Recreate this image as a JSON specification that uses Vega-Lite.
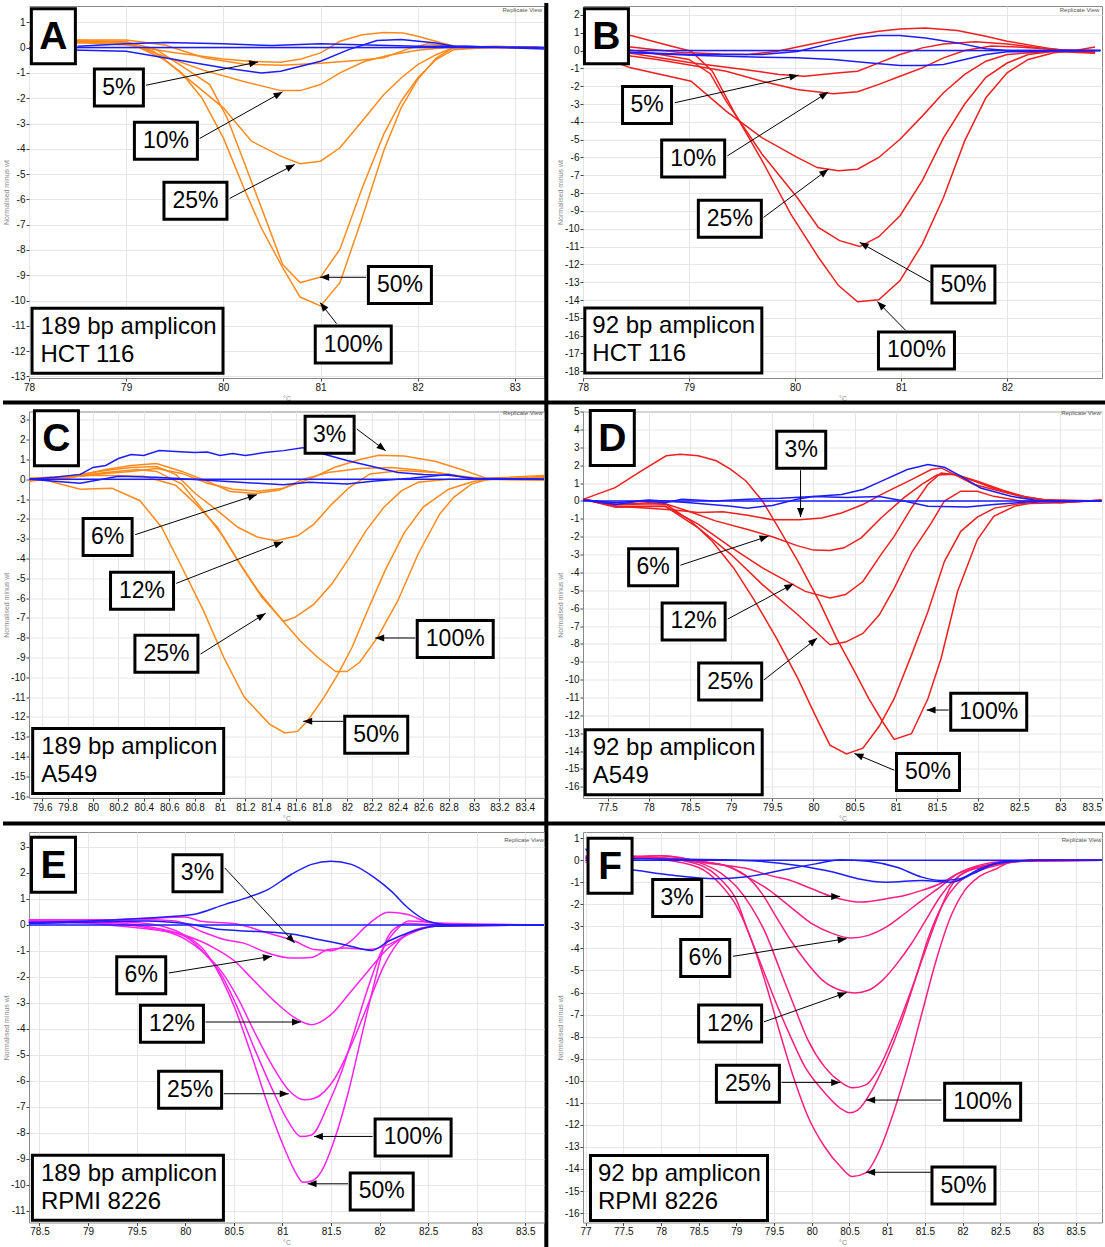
{
  "$schema": "https://vega.github.io/schema/vega-lite/v6.json",
  "padding": 0,
  "background": "white",
  "config": {
    "font": "Liberation Sans",
    "view": {"stroke": "#8a8a8a", "strokeWidth": 1},
    "axis": {
      "labelFont": "Liberation Sans", "labelFontSize": 10, "labelColor": "#111",
      "tickSize": 3, "tickColor": "#444", "domain": false, "grid": true, "gridColor": "#e6e6e6",
      "titleFont": "Liberation Sans", "titleFontSize": 7, "titleFontWeight": "normal", "titleColor": "#888",
      "labelPadding": 1, "labelOverlap": false
    },
    "axisX": {"titleY": 16, "titleBaseline": "top", "labelFlush": false},
    "axisY": {"titleX": -20, "titleBaseline": "bottom"}
  },
  "datasets": {
    "cA": [
      {"s":"p100","x":78,"y":0.12},{"s":"p100","x":78.5,"y":0.2},{"s":"p100","x":79,"y":0.18},{"s":"p100","x":79.28,"y":-0.14},{"s":"p100","x":79.57,"y":-1.0},{"s":"p100","x":79.78,"y":-1.99},{"s":"p100","x":80.0,"y":-3.57},{"s":"p100","x":80.21,"y":-5.54},{"s":"p100","x":80.39,"y":-7.12},{"s":"p100","x":80.61,"y":-8.7},{"s":"p100","x":80.79,"y":-9.86},{"s":"p100","x":81.0,"y":-10.21},{"s":"p100","x":81.2,"y":-9.29},{"s":"p100","x":81.43,"y":-6.72},{"s":"p100","x":81.65,"y":-4.09},{"s":"p100","x":81.83,"y":-2.38},{"s":"p100","x":82.0,"y":-1.26},{"s":"p100","x":82.19,"y":-0.41},{"s":"p100","x":82.37,"y":0},{"s":"p100","x":82.8,"y":0.05},{"s":"p100","x":83.25,"y":0},
      {"s":"p50","x":78,"y":0.1},{"s":"p50","x":78.5,"y":0.25},{"s":"p50","x":79,"y":0.22},{"s":"p50","x":79.3,"y":-0.05},{"s":"p50","x":79.6,"y":-0.8},{"s":"p50","x":79.86,"y":-1.46},{"s":"p50","x":80.04,"y":-2.78},{"s":"p50","x":80.21,"y":-4.49},{"s":"p50","x":80.43,"y":-6.72},{"s":"p50","x":80.61,"y":-8.57},{"s":"p50","x":80.79,"y":-9.29},{"s":"p50","x":81.0,"y":-9.07},{"s":"p50","x":81.2,"y":-7.97},{"s":"p50","x":81.43,"y":-5.54},{"s":"p50","x":81.65,"y":-3.43},{"s":"p50","x":81.83,"y":-2.12},{"s":"p50","x":82.0,"y":-1.2},{"s":"p50","x":82.19,"y":-0.47},{"s":"p50","x":82.37,"y":-0.08},{"s":"p50","x":82.8,"y":0.02},{"s":"p50","x":83.25,"y":0},
      {"s":"p25","x":78,"y":0.15},{"s":"p25","x":78.5,"y":0.25},{"s":"p25","x":79,"y":0.25},{"s":"p25","x":79.39,"y":-0.47},{"s":"p25","x":79.71,"y":-1.46},{"s":"p25","x":80.0,"y":-2.38},{"s":"p25","x":80.29,"y":-3.7},{"s":"p25","x":80.59,"y":-4.29},{"s":"p25","x":80.79,"y":-4.59},{"s":"p25","x":81.0,"y":-4.49},{"s":"p25","x":81.2,"y":-3.96},{"s":"p25","x":81.43,"y":-2.9},{"s":"p25","x":81.65,"y":-1.86},{"s":"p25","x":81.83,"y":-1.2},{"s":"p25","x":82.0,"y":-0.67},{"s":"p25","x":82.19,"y":-0.28},{"s":"p25","x":82.37,"y":0},{"s":"p25","x":83.25,"y":0},
      {"s":"p10","x":78,"y":0.2},{"s":"p10","x":78.5,"y":0.3},{"s":"p10","x":79,"y":0.2},{"s":"p10","x":79.39,"y":-0.34},{"s":"p10","x":79.8,"y":-0.9},{"s":"p10","x":80.2,"y":-1.33},{"s":"p10","x":80.59,"y":-1.7},{"s":"p10","x":80.79,"y":-1.7},{"s":"p10","x":81.0,"y":-1.46},{"s":"p10","x":81.2,"y":-1.0},{"s":"p10","x":81.45,"y":-0.55},{"s":"p10","x":81.7,"y":-0.3},{"s":"p10","x":82.0,"y":-0.1},{"s":"p10","x":82.3,"y":0},{"s":"p10","x":83.25,"y":0},
      {"s":"p5","x":78,"y":0.1},{"s":"p5","x":78.5,"y":0.2},{"s":"p5","x":79,"y":0.1},{"s":"p5","x":79.5,"y":-0.2},{"s":"p5","x":80.0,"y":-0.45},{"s":"p5","x":80.3,"y":-0.55},{"s":"p5","x":80.59,"y":-0.58},{"s":"p5","x":80.8,"y":-0.45},{"s":"p5","x":81.0,"y":-0.21},{"s":"p5","x":81.2,"y":0.25},{"s":"p5","x":81.43,"y":0.51},{"s":"p5","x":81.65,"y":0.6},{"s":"p5","x":81.85,"y":0.58},{"s":"p5","x":82.0,"y":0.45},{"s":"p5","x":82.25,"y":0.18},{"s":"p5","x":82.45,"y":0},{"s":"p5","x":83.25,"y":0},
      {"s":"px","x":78,"y":0.2},{"s":"px","x":78.6,"y":0.3},{"s":"px","x":79,"y":0.3},{"s":"px","x":79.4,"y":0.1},{"s":"px","x":79.8,"y":-0.4},{"s":"px","x":80.2,"y":-0.65},{"s":"px","x":80.6,"y":-0.7},{"s":"px","x":81.0,"y":-0.62},{"s":"px","x":81.4,"y":-0.5},{"s":"px","x":81.65,"y":-0.4},{"s":"px","x":81.9,"y":-0.05},{"s":"px","x":82.1,"y":0.15},{"s":"px","x":82.35,"y":0.05},{"s":"px","x":83.25,"y":0},
      {"s":"w0","x":78,"y":0},{"s":"w0","x":83.3,"y":0},
      {"s":"w1","x":78.5,"y":0.05},{"s":"w1","x":79,"y":0.15},{"s":"w1","x":79.4,"y":0.2},{"s":"w1","x":80,"y":0.15},{"s":"w1","x":80.5,"y":0.08},{"s":"w1","x":81,"y":0.15},{"s":"w1","x":81.5,"y":0.1},{"s":"w1","x":82,"y":0.05},{"s":"w1","x":82.5,"y":0.05},{"s":"w1","x":83.3,"y":-0.05},
      {"s":"w2","x":78,"y":-0.05},{"s":"w2","x":79,"y":-0.14},{"s":"w2","x":79.5,"y":-0.47},{"s":"w2","x":80,"y":-0.8},{"s":"w2","x":80.39,"y":-1.0},{"s":"w2","x":80.59,"y":-0.93},{"s":"w2","x":81,"y":-0.54},{"s":"w2","x":81.29,"y":-0.08},{"s":"w2","x":81.58,"y":0.28},{"s":"w2","x":81.83,"y":0.32},{"s":"w2","x":82.19,"y":0.18},{"s":"w2","x":82.37,"y":0.05},{"s":"w2","x":83.3,"y":0}
    ],
    "aA": [
      {"k":"L","txt":"A","x":78.251,"y":0.447},
      {"k":"l","txt":"5%","x":78.925,"y":-1.579},{"k":"l","txt":"10%","x":79.409,"y":-3.684},{"k":"l","txt":"25%","x":79.713,"y":-6.053},{"k":"l","txt":"50%","x":81.817,"y":-9.382},{"k":"l","txt":"100%","x":81.337,"y":-11.737},
      {"k":"i","txt":"189 bp amplicon\nHCT 116","x":79.014,"y":-11.592},
      {"k":"a","x":79.204,"y":-1.487,"xe":80.358,"ye":-0.566},{"k":"a","x":79.756,"y":-3.592,"xe":80.609,"ye":-1.75},{"k":"a","x":80.065,"y":-5.961,"xe":80.735,"ye":-4.618},{"k":"a","x":81.47,"y":-9.079,"xe":80.996,"ye":-9.079},{"k":"a","x":81.165,"y":-10.908,"xe":80.996,"ye":-10.079},
      {"k":"r","txt":"Replicate View","x":83.28,"y":1.49}
    ],
    "cB": [
      {"s":"p100","x":78,"y":0.99},{"s":"p100","x":78.24,"y":1.12},{"s":"p100","x":78.48,"y":0.8},{"s":"p100","x":78.8,"y":0.3},{"s":"p100","x":79.02,"y":-0.04},{"s":"p100","x":79.22,"y":-1.16},{"s":"p100","x":79.42,"y":-3.4},{"s":"p100","x":79.69,"y":-6.19},{"s":"p100","x":79.96,"y":-9.18},{"s":"p100","x":80.22,"y":-11.6},{"s":"p100","x":80.41,"y":-13.19},{"s":"p100","x":80.59,"y":-14.1},{"s":"p100","x":80.79,"y":-13.99},{"s":"p100","x":80.99,"y":-12.91},{"s":"p100","x":81.2,"y":-10.86},{"s":"p100","x":81.4,"y":-8.25},{"s":"p100","x":81.6,"y":-5.07},{"s":"p100","x":81.8,"y":-2.65},{"s":"p100","x":82.0,"y":-1.25},{"s":"p100","x":82.2,"y":-0.5},{"s":"p100","x":82.44,"y":-0.13},{"s":"p100","x":82.64,"y":0},{"s":"p100","x":82.83,"y":0.2},
      {"s":"p50","x":78,"y":0.25},{"s":"p50","x":78.3,"y":0.15},{"s":"p50","x":78.6,"y":-0.1},{"s":"p50","x":79.0,"y":-0.5},{"s":"p50","x":79.2,"y":-1.3},{"s":"p50","x":79.35,"y":-2.84},{"s":"p50","x":79.69,"y":-5.82},{"s":"p50","x":80.02,"y":-8.25},{"s":"p50","x":80.22,"y":-9.93},{"s":"p50","x":80.42,"y":-10.67},{"s":"p50","x":80.61,"y":-11.0},{"s":"p50","x":80.79,"y":-10.45},{"s":"p50","x":80.99,"y":-9.27},{"s":"p50","x":81.2,"y":-7.3},{"s":"p50","x":81.4,"y":-4.9},{"s":"p50","x":81.6,"y":-3.0},{"s":"p50","x":81.8,"y":-1.5},{"s":"p50","x":82.0,"y":-0.7},{"s":"p50","x":82.2,"y":-0.22},{"s":"p50","x":82.45,"y":-0.04},{"s":"p50","x":82.83,"y":-0.1},
      {"s":"p25","x":78,"y":0.0},{"s":"p25","x":78.45,"y":-0.97},{"s":"p25","x":79.02,"y":-1.72},{"s":"p25","x":79.35,"y":-3.4},{"s":"p25","x":79.69,"y":-4.9},{"s":"p25","x":80.02,"y":-6.0},{"s":"p25","x":80.21,"y":-6.57},{"s":"p25","x":80.41,"y":-6.75},{"s":"p25","x":80.59,"y":-6.66},{"s":"p25","x":80.79,"y":-6.0},{"s":"p25","x":80.99,"y":-4.98},{"s":"p25","x":81.2,"y":-3.68},{"s":"p25","x":81.4,"y":-2.37},{"s":"p25","x":81.6,"y":-1.34},{"s":"p25","x":81.8,"y":-0.6},{"s":"p25","x":82.0,"y":-0.22},{"s":"p25","x":82.4,"y":-0.04},{"s":"p25","x":82.83,"y":-0.15},
      {"s":"p10","x":78,"y":0.05},{"s":"p10","x":78.7,"y":-0.5},{"s":"p10","x":79.35,"y":-1.16},{"s":"p10","x":79.69,"y":-1.72},{"s":"p10","x":80.02,"y":-2.18},{"s":"p10","x":80.16,"y":-2.28},{"s":"p10","x":80.36,"y":-2.43},{"s":"p10","x":80.59,"y":-2.31},{"s":"p10","x":80.79,"y":-1.9},{"s":"p10","x":80.99,"y":-1.44},{"s":"p10","x":81.2,"y":-0.97},{"s":"p10","x":81.4,"y":-0.41},{"s":"p10","x":81.6,"y":0.0},{"s":"p10","x":81.85,"y":0.25},{"s":"p10","x":82.1,"y":0.2},{"s":"p10","x":82.5,"y":0.05},{"s":"p10","x":82.83,"y":0.0},
      {"s":"p5","x":78,"y":0.15},{"s":"p5","x":78.5,"y":-0.2},{"s":"p5","x":79.02,"y":-0.69},{"s":"p5","x":79.52,"y":-1.06},{"s":"p5","x":79.85,"y":-1.34},{"s":"p5","x":80.09,"y":-1.44},{"s":"p5","x":80.42,"y":-1.25},{"s":"p5","x":80.59,"y":-1.16},{"s":"p5","x":80.79,"y":-0.69},{"s":"p5","x":80.99,"y":-0.22},{"s":"p5","x":81.2,"y":0.15},{"s":"p5","x":81.4,"y":0.37},{"s":"p5","x":81.7,"y":0.49},{"s":"p5","x":82.0,"y":0.37},{"s":"p5","x":82.37,"y":0.1},{"s":"p5","x":82.83,"y":-0.1},
      {"s":"px","x":78,"y":0.3},{"s":"px","x":78.45,"y":0.2},{"s":"px","x":78.9,"y":-0.1},{"s":"px","x":79.3,"y":-0.2},{"s":"px","x":79.55,"y":-0.22},{"s":"px","x":79.82,"y":-0.05},{"s":"px","x":80.1,"y":0.3},{"s":"px","x":80.36,"y":0.62},{"s":"px","x":80.59,"y":0.9},{"s":"px","x":80.79,"y":1.08},{"s":"px","x":80.99,"y":1.21},{"s":"px","x":81.23,"y":1.27},{"s":"px","x":81.53,"y":1.12},{"s":"px","x":81.8,"y":0.8},{"s":"px","x":82.0,"y":0.52},{"s":"px","x":82.37,"y":0.15},{"s":"px","x":82.54,"y":0},{"s":"px","x":82.83,"y":-0.13},
      {"s":"w0","x":78,"y":0},{"s":"w0","x":82.88,"y":0},
      {"s":"w1","x":78,"y":0},{"s":"w1","x":79.02,"y":-0.22},{"s":"w1","x":79.69,"y":-0.22},{"s":"w1","x":80.02,"y":-0.05},{"s":"w1","x":80.36,"y":0.43},{"s":"w1","x":80.59,"y":0.7},{"s":"w1","x":80.79,"y":0.84},{"s":"w1","x":80.99,"y":0.84},{"s":"w1","x":81.23,"y":0.7},{"s":"w1","x":81.53,"y":0.43},{"s":"w1","x":81.8,"y":0.1},{"s":"w1","x":82.0,"y":0},{"s":"w1","x":82.88,"y":0},
      {"s":"w2","x":78,"y":0},{"s":"w2","x":79.02,"y":-0.26},{"s":"w2","x":79.69,"y":-0.37},{"s":"w2","x":80.02,"y":-0.41},{"s":"w2","x":80.36,"y":-0.5},{"s":"w2","x":80.69,"y":-0.69},{"s":"w2","x":80.99,"y":-0.84},{"s":"w2","x":81.2,"y":-0.84},{"s":"w2","x":81.4,"y":-0.78},{"s":"w2","x":81.6,"y":-0.5},{"s":"w2","x":81.8,"y":-0.22},{"s":"w2","x":82.0,"y":-0.07},{"s":"w2","x":82.88,"y":0}
    ],
    "aB": [
      {"k":"L","txt":"B","x":78.221,"y":0.802},
      {"k":"l","txt":"5%","x":78.604,"y":-3.06},{"k":"l","txt":"10%","x":79.039,"y":-6.063},{"k":"l","txt":"25%","x":79.385,"y":-9.44},{"k":"l","txt":"50%","x":81.588,"y":-13.134},{"k":"l","txt":"100%","x":81.145,"y":-16.828},
      {"k":"i","txt":"92 bp amplicon\nHCT 116","x":78.852,"y":-16.269},
      {"k":"a","x":78.865,"y":-2.929,"xe":80.032,"ye":-1.381},{"k":"a","x":79.361,"y":-5.914,"xe":80.313,"ye":-2.332},{"k":"a","x":79.703,"y":-9.366,"xe":80.313,"ye":-6.66},{"k":"a","x":81.279,"y":-13.004,"xe":80.609,"ye":-10.765},{"k":"a","x":81.044,"y":-15.709,"xe":80.776,"ye":-14.086},
      {"k":"r","txt":"Replicate View","x":82.87,"y":2.28},
      {"k":"s","x":77.654,"y":2.668,"xe":77.654,"ye":-67.2}
    ],
    "cC": [
      {"s":"p50","x":79.5,"y":0},{"s":"p50","x":79.6,"y":0},{"s":"p50","x":79.9,"y":-0.5},{"s":"p50","x":80.15,"y":-0.45},{"s":"p50","x":80.37,"y":-1.08},{"s":"p50","x":80.54,"y":-2.42},{"s":"p50","x":80.7,"y":-4.44},{"s":"p50","x":80.87,"y":-6.63},{"s":"p50","x":81.03,"y":-9.0},{"s":"p50","x":81.19,"y":-11.0},{"s":"p50","x":81.39,"y":-12.36},{"s":"p50","x":81.51,"y":-12.81},{"s":"p50","x":81.61,"y":-12.73},{"s":"p50","x":81.69,"y":-12.19},{"s":"p50","x":81.82,"y":-11.0},{"s":"p50","x":81.93,"y":-9.83},{"s":"p50","x":82.04,"y":-8.48},{"s":"p50","x":82.15,"y":-6.8},{"s":"p50","x":82.3,"y":-4.6},{"s":"p50","x":82.45,"y":-2.7},{"s":"p50","x":82.6,"y":-1.4},{"s":"p50","x":82.8,"y":-0.5},{"s":"p50","x":83.0,"y":-0.1},{"s":"p50","x":83.15,"y":0},{"s":"p50","x":83.55,"y":0.15},
      {"s":"p100","x":79.5,"y":0},{"s":"p100","x":79.8,"y":0.1},{"s":"p100","x":80.0,"y":0.2},{"s":"p100","x":80.4,"y":0.15},{"s":"p100","x":80.65,"y":-0.3},{"s":"p100","x":80.81,"y":-1.25},{"s":"p100","x":80.98,"y":-2.42},{"s":"p100","x":81.14,"y":-4.1},{"s":"p100","x":81.3,"y":-5.62},{"s":"p100","x":81.47,"y":-6.97},{"s":"p100","x":81.63,"y":-8.15},{"s":"p100","x":81.77,"y":-9.0},{"s":"p100","x":81.91,"y":-9.71},{"s":"p100","x":82.0,"y":-9.71},{"s":"p100","x":82.1,"y":-9.24},{"s":"p100","x":82.24,"y":-7.98},{"s":"p100","x":82.4,"y":-6.13},{"s":"p100","x":82.56,"y":-3.77},{"s":"p100","x":82.73,"y":-1.75},{"s":"p100","x":82.84,"y":-0.91},{"s":"p100","x":82.98,"y":-0.24},{"s":"p100","x":83.11,"y":0},{"s":"p100","x":83.55,"y":0.1},
      {"s":"p25","x":79.5,"y":-0.1},{"s":"p25","x":79.8,"y":0.1},{"s":"p25","x":80.1,"y":0.35},{"s":"p25","x":80.35,"y":0.5},{"s":"p25","x":80.5,"y":0.4},{"s":"p25","x":80.7,"y":-0.24},{"s":"p25","x":80.87,"y":-1.58},{"s":"p25","x":81.03,"y":-2.93},{"s":"p25","x":81.19,"y":-4.61},{"s":"p25","x":81.33,"y":-5.96},{"s":"p25","x":81.5,"y":-7.17},{"s":"p25","x":81.59,"y":-6.97},{"s":"p25","x":81.74,"y":-6.3},{"s":"p25","x":81.88,"y":-5.29},{"s":"p25","x":82.02,"y":-3.94},{"s":"p25","x":82.15,"y":-2.59},{"s":"p25","x":82.29,"y":-1.41},{"s":"p25","x":82.43,"y":-0.57},{"s":"p25","x":82.56,"y":-0.15},{"s":"p25","x":82.8,"y":0},{"s":"p25","x":83.1,"y":0},{"s":"p25","x":83.55,"y":0.05},
      {"s":"p12","x":79.5,"y":0.05},{"s":"p12","x":79.8,"y":0.15},{"s":"p12","x":80.1,"y":0.45},{"s":"p12","x":80.3,"y":0.6},{"s":"p12","x":80.5,"y":0.65},{"s":"p12","x":80.65,"y":0.25},{"s":"p12","x":80.81,"y":-0.74},{"s":"p12","x":80.98,"y":-1.58},{"s":"p12","x":81.14,"y":-2.42},{"s":"p12","x":81.3,"y":-2.93},{"s":"p12","x":81.44,"y":-3.1},{"s":"p12","x":81.61,"y":-2.85},{"s":"p12","x":81.74,"y":-2.26},{"s":"p12","x":81.88,"y":-1.25},{"s":"p12","x":82.02,"y":-0.4},{"s":"p12","x":82.18,"y":0.27},{"s":"p12","x":82.43,"y":0.44},{"s":"p12","x":82.7,"y":0.35},{"s":"p12","x":82.95,"y":0.1},{"s":"p12","x":83.1,"y":0},{"s":"p12","x":83.55,"y":-0.05},
      {"s":"p6","x":79.5,"y":0.05},{"s":"p6","x":79.8,"y":0.05},{"s":"p6","x":80.1,"y":0.5},{"s":"p6","x":80.3,"y":0.7},{"s":"p6","x":80.5,"y":0.8},{"s":"p6","x":80.7,"y":0.4},{"s":"p6","x":80.9,"y":-0.1},{"s":"p6","x":81.08,"y":-0.61},{"s":"p6","x":81.28,"y":-0.71},{"s":"p6","x":81.47,"y":-0.54},{"s":"p6","x":81.65,"y":0.0},{"s":"p6","x":81.85,"y":0.35},{"s":"p6","x":82.1,"y":0.55},{"s":"p6","x":82.35,"y":0.6},{"s":"p6","x":82.6,"y":0.45},{"s":"p6","x":82.9,"y":0.15},{"s":"p6","x":83.1,"y":0},{"s":"p6","x":83.55,"y":0.1},
      {"s":"p3","x":79.5,"y":-0.05},{"s":"p3","x":79.8,"y":0.1},{"s":"p3","x":80.1,"y":0.3},{"s":"p3","x":80.3,"y":0.4},{"s":"p3","x":80.5,"y":0.55},{"s":"p3","x":80.7,"y":0.3},{"s":"p3","x":80.9,"y":-0.2},{"s":"p3","x":81.1,"y":-0.5},{"s":"p3","x":81.3,"y":-0.6},{"s":"p3","x":81.5,"y":-0.45},{"s":"p3","x":81.7,"y":0.0},{"s":"p3","x":81.9,"y":0.6},{"s":"p3","x":82.1,"y":1.0},{"s":"p3","x":82.25,"y":1.22},{"s":"p3","x":82.45,"y":1.18},{"s":"p3","x":82.7,"y":0.9},{"s":"p3","x":82.9,"y":0.5},{"s":"p3","x":83.1,"y":0.05},{"s":"p3","x":83.55,"y":0.2},
      {"s":"w0","x":79.5,"y":0},{"s":"w0","x":83.55,"y":0},
      {"s":"w1","x":79.5,"y":0},{"s":"w1","x":79.7,"y":0.1},{"s":"w1","x":79.9,"y":0.25},{"s":"w1","x":80.0,"y":0.6},{"s":"w1","x":80.1,"y":0.7},{"s":"w1","x":80.2,"y":1.05},{"s":"w1","x":80.3,"y":1.25},{"s":"w1","x":80.4,"y":1.2},{"s":"w1","x":80.52,"y":1.45},{"s":"w1","x":80.65,"y":1.4},{"s":"w1","x":80.8,"y":1.35},{"s":"w1","x":80.9,"y":1.38},{"s":"w1","x":81.0,"y":1.2},{"s":"w1","x":81.1,"y":1.3},{"s":"w1","x":81.2,"y":1.2},{"s":"w1","x":81.35,"y":1.35},{"s":"w1","x":81.5,"y":1.45},{"s":"w1","x":81.65,"y":1.6},{"s":"w1","x":81.8,"y":1.3},{"s":"w1","x":82.0,"y":0.95},{"s":"w1","x":82.2,"y":0.65},{"s":"w1","x":82.4,"y":0.35},{"s":"w1","x":82.6,"y":0.25},{"s":"w1","x":82.8,"y":0.2},{"s":"w1","x":83.0,"y":0.05},{"s":"w1","x":83.55,"y":0},
      {"s":"w2","x":79.5,"y":0},{"s":"w2","x":79.9,"y":-0.2},{"s":"w2","x":80.2,"y":0.15},{"s":"w2","x":80.5,"y":0.1},{"s":"w2","x":80.9,"y":-0.05},{"s":"w2","x":81.3,"y":-0.2},{"s":"w2","x":81.5,"y":-0.27},{"s":"w2","x":81.7,"y":-0.15},{"s":"w2","x":82.0,"y":-0.24},{"s":"w2","x":82.2,"y":-0.1},{"s":"w2","x":82.5,"y":0.05},{"s":"w2","x":82.8,"y":0.25},{"s":"w2","x":83.0,"y":0.0},{"s":"w2","x":83.55,"y":0}
    ],
    "aC": [
      {"k":"L","txt":"C","x":79.712,"y":2.071},
      {"k":"l","txt":"3%","x":81.863,"y":2.256},{"k":"l","txt":"6%","x":80.115,"y":-2.912},{"k":"l","txt":"12%","x":80.386,"y":-5.623},{"k":"l","txt":"25%","x":80.578,"y":-8.805},{"k":"l","txt":"100%","x":82.852,"y":-8.064},{"k":"l","txt":"50%","x":82.23,"y":-12.896},
      {"k":"i","txt":"189 bp amplicon\nA549","x":80.277,"y":-14.226},
      {"k":"a","x":82.077,"y":2.542,"xe":82.304,"ye":1.448},{"k":"a","x":80.332,"y":-2.795,"xe":81.29,"ye":-0.774},{"k":"a","x":80.655,"y":-5.253,"xe":81.496,"ye":-3.148},{"k":"a","x":80.847,"y":-8.822,"xe":81.359,"ye":-6.768},{"k":"a","x":82.537,"y":-8.013,"xe":82.222,"ye":-8.013},{"k":"a","x":81.97,"y":-12.222,"xe":81.655,"ye":-12.222},
      {"k":"r","txt":"Replicate View","x":83.54,"y":3.35},
      {"k":"s","x":79.2913,"y":3.881,"xe":87.976,"ye":3.881}
    ],
    "cD": [
      {"s":"p100","x":77.2,"y":0.09},{"s":"p100","x":77.59,"y":0.75},{"s":"p100","x":77.91,"y":1.69},{"s":"p100","x":78.21,"y":2.53},{"s":"p100","x":78.38,"y":2.62},{"s":"p100","x":78.6,"y":2.53},{"s":"p100","x":78.82,"y":2.25},{"s":"p100","x":78.99,"y":1.78},{"s":"p100","x":79.18,"y":1.12},{"s":"p100","x":79.38,"y":0},{"s":"p100","x":79.55,"y":-1.31},{"s":"p100","x":79.81,"y":-3.37},{"s":"p100","x":80.07,"y":-5.62},{"s":"p100","x":80.28,"y":-7.68},{"s":"p100","x":80.5,"y":-9.55},{"s":"p100","x":80.67,"y":-11.05},{"s":"p100","x":80.84,"y":-12.36},{"s":"p100","x":80.98,"y":-13.35},{"s":"p100","x":81.19,"y":-13.03},{"s":"p100","x":81.39,"y":-11.07},{"s":"p100","x":81.55,"y":-8.82},{"s":"p100","x":81.75,"y":-5.07},{"s":"p100","x":81.99,"y":-2.17},{"s":"p100","x":82.19,"y":-0.86},{"s":"p100","x":82.44,"y":-0.3},{"s":"p100","x":82.76,"y":0},{"s":"p100","x":83.0,"y":-0.1},{"s":"p100","x":83.5,"y":0.05},
      {"s":"p50","x":77.2,"y":0.1},{"s":"p50","x":77.6,"y":-0.2},{"s":"p50","x":78.0,"y":-0.1},{"s":"p50","x":78.21,"y":-0.19},{"s":"p50","x":78.51,"y":-1.12},{"s":"p50","x":78.77,"y":-2.25},{"s":"p50","x":79.03,"y":-3.75},{"s":"p50","x":79.29,"y":-5.62},{"s":"p50","x":79.55,"y":-7.68},{"s":"p50","x":79.81,"y":-9.93},{"s":"p50","x":80.02,"y":-11.99},{"s":"p50","x":80.2,"y":-13.67},{"s":"p50","x":80.4,"y":-14.16},{"s":"p50","x":80.6,"y":-13.84},{"s":"p50","x":80.8,"y":-12.6},{"s":"p50","x":80.98,"y":-11.07},{"s":"p50","x":81.19,"y":-8.63},{"s":"p50","x":81.39,"y":-6.2},{"s":"p50","x":81.59,"y":-3.39},{"s":"p50","x":81.79,"y":-1.7},{"s":"p50","x":81.99,"y":-0.9},{"s":"p50","x":82.2,"y":-0.4},{"s":"p50","x":82.5,"y":-0.15},{"s":"p50","x":83.0,"y":-0.1},{"s":"p50","x":83.5,"y":0.05},
      {"s":"p25","x":77.2,"y":0.1},{"s":"p25","x":77.6,"y":-0.3},{"s":"p25","x":78.2,"y":-0.3},{"s":"p25","x":78.6,"y":-1.5},{"s":"p25","x":79.0,"y":-3.0},{"s":"p25","x":79.38,"y":-4.68},{"s":"p25","x":79.81,"y":-6.37},{"s":"p25","x":80.2,"y":-8.05},{"s":"p25","x":80.39,"y":-7.9},{"s":"p25","x":80.6,"y":-7.42},{"s":"p25","x":80.8,"y":-6.37},{"s":"p25","x":80.98,"y":-4.89},{"s":"p25","x":81.2,"y":-2.83},{"s":"p25","x":81.43,"y":-1.24},{"s":"p25","x":81.59,"y":0},{"s":"p25","x":81.79,"y":0.55},{"s":"p25","x":81.99,"y":0.55},{"s":"p25","x":82.19,"y":0.26},{"s":"p25","x":82.52,"y":0},{"s":"p25","x":83.5,"y":0},
      {"s":"p12","x":77.2,"y":0.1},{"s":"p12","x":77.6,"y":-0.35},{"s":"p12","x":78.2,"y":-0.3},{"s":"p12","x":78.6,"y":-1.3},{"s":"p12","x":79.0,"y":-2.6},{"s":"p12","x":79.38,"y":-3.75},{"s":"p12","x":79.64,"y":-4.4},{"s":"p12","x":79.9,"y":-5.06},{"s":"p12","x":80.2,"y":-5.43},{"s":"p12","x":80.39,"y":-5.24},{"s":"p12","x":80.6,"y":-4.51},{"s":"p12","x":80.82,"y":-3.0},{"s":"p12","x":80.98,"y":-1.98},{"s":"p12","x":81.19,"y":-0.39},{"s":"p12","x":81.39,"y":0.92},{"s":"p12","x":81.55,"y":1.57},{"s":"p12","x":81.75,"y":1.46},{"s":"p12","x":82.0,"y":1.1},{"s":"p12","x":82.3,"y":0.6},{"s":"p12","x":82.6,"y":0.2},{"s":"p12","x":83.0,"y":-0.05},{"s":"p12","x":83.5,"y":0},
      {"s":"p6","x":77.2,"y":0.1},{"s":"p6","x":77.6,"y":-0.2},{"s":"p6","x":78.2,"y":-0.15},{"s":"p6","x":78.5,"y":-0.6},{"s":"p6","x":78.8,"y":-1.1},{"s":"p6","x":79.2,"y":-1.6},{"s":"p6","x":79.5,"y":-2.0},{"s":"p6","x":79.8,"y":-2.5},{"s":"p6","x":80.0,"y":-2.75},{"s":"p6","x":80.2,"y":-2.77},{"s":"p6","x":80.37,"y":-2.62},{"s":"p6","x":80.58,"y":-2.06},{"s":"p6","x":80.82,"y":-0.95},{"s":"p6","x":81.1,"y":0.19},{"s":"p6","x":81.32,"y":0.94},{"s":"p6","x":81.5,"y":1.45},{"s":"p6","x":81.7,"y":1.5},{"s":"p6","x":81.9,"y":1.2},{"s":"p6","x":82.2,"y":0.7},{"s":"p6","x":82.5,"y":0.3},{"s":"p6","x":82.9,"y":0.0},{"s":"p6","x":83.5,"y":0},
      {"s":"p3","x":77.2,"y":0.1},{"s":"p3","x":77.6,"y":-0.3},{"s":"p3","x":78.0,"y":-0.4},{"s":"p3","x":78.3,"y":-0.5},{"s":"p3","x":78.6,"y":-0.65},{"s":"p3","x":78.9,"y":-0.6},{"s":"p3","x":79.2,"y":-0.8},{"s":"p3","x":79.5,"y":-1.05},{"s":"p3","x":79.83,"y":-1.05},{"s":"p3","x":80.1,"y":-0.95},{"s":"p3","x":80.34,"y":-0.67},{"s":"p3","x":80.6,"y":-0.2},{"s":"p3","x":80.82,"y":0.36},{"s":"p3","x":81.19,"y":1.2},{"s":"p3","x":81.43,"y":1.76},{"s":"p3","x":81.55,"y":1.85},{"s":"p3","x":81.75,"y":1.39},{"s":"p3","x":81.95,"y":0.92},{"s":"p3","x":82.19,"y":0.64},{"s":"p3","x":82.52,"y":0.26},{"s":"p3","x":82.76,"y":0.08},{"s":"p3","x":83.5,"y":0},
      {"s":"w0","x":77.2,"y":0},{"s":"w0","x":83.5,"y":0},
      {"s":"w1","x":77.2,"y":0.05},{"s":"w1","x":77.6,"y":-0.2},{"s":"w1","x":77.9,"y":0.0},{"s":"w1","x":78.2,"y":-0.1},{"s":"w1","x":78.4,"y":0.1},{"s":"w1","x":78.8,"y":0.0},{"s":"w1","x":79.2,"y":0.1},{"s":"w1","x":79.6,"y":0.15},{"s":"w1","x":80.0,"y":0.25},{"s":"w1","x":80.34,"y":0.36},{"s":"w1","x":80.6,"y":0.64},{"s":"w1","x":80.82,"y":1.1},{"s":"w1","x":81.14,"y":1.76},{"s":"w1","x":81.39,"y":2.04},{"s":"w1","x":81.59,"y":1.89},{"s":"w1","x":81.79,"y":1.39},{"s":"w1","x":82.03,"y":0.73},{"s":"w1","x":82.4,"y":0.26},{"s":"w1","x":82.76,"y":0.0},{"s":"w1","x":83.5,"y":0},
      {"s":"w2","x":77.2,"y":0.05},{"s":"w2","x":77.6,"y":-0.1},{"s":"w2","x":78.0,"y":0.05},{"s":"w2","x":78.5,"y":-0.1},{"s":"w2","x":79.0,"y":-0.3},{"s":"w2","x":79.2,"y":-0.4},{"s":"w2","x":79.5,"y":-0.25},{"s":"w2","x":79.8,"y":0.1},{"s":"w2","x":80.0,"y":0.25},{"s":"w2","x":80.4,"y":0.2},{"s":"w2","x":80.8,"y":0.25},{"s":"w2","x":81.1,"y":0.0},{"s":"w2","x":81.39,"y":-0.3},{"s":"w2","x":81.87,"y":-0.34},{"s":"w2","x":82.19,"y":-0.2},{"s":"w2","x":82.6,"y":-0.05},{"s":"w2","x":83.5,"y":0}
    ],
    "aD": [
      {"k":"L","txt":"D","x":77.556,"y":3.521},
      {"k":"l","txt":"3%","x":79.851,"y":2.865},{"k":"l","txt":"6%","x":78.052,"y":-3.708},{"k":"l","txt":"12%","x":78.544,"y":-6.742},{"k":"l","txt":"25%","x":78.988,"y":-10.112},{"k":"l","txt":"100%","x":82.129,"y":-11.798},{"k":"l","txt":"50%","x":81.391,"y":-15.169},
      {"k":"i","txt":"92 bp amplicon\nA549","x":78.302,"y":-14.625},
      {"k":"a","x":79.843,"y":1.723,"xe":79.843,"ye":-0.899},{"k":"a","x":78.384,"y":-3.596,"xe":79.454,"ye":-1.966},{"k":"a","x":78.958,"y":-6.61,"xe":79.756,"ye":-4.644},{"k":"a","x":79.398,"y":-10.019,"xe":80.045,"ye":-7.678},{"k":"a","x":81.642,"y":-11.704,"xe":81.374,"ye":-11.704},{"k":"a","x":80.981,"y":-15.075,"xe":80.498,"ye":-14.139},
      {"k":"r","txt":"Replicate View","x":83.49,"y":4.93}
    ],
    "cE": [
      {"s":"p50","x":78.39,"y":0.15},{"s":"p50","x":78.8,"y":0.2},{"s":"p50","x":79.2,"y":0.15},{"s":"p50","x":79.6,"y":0.05},{"s":"p50","x":80.0,"y":-0.4},{"s":"p50","x":80.2,"y":-1.0},{"s":"p50","x":80.37,"y":-2.04},{"s":"p50","x":80.51,"y":-3.2},{"s":"p50","x":80.68,"y":-4.99},{"s":"p50","x":80.85,"y":-6.92},{"s":"p50","x":81.02,"y":-8.59},{"s":"p50","x":81.13,"y":-9.49},{"s":"p50","x":81.21,"y":-9.9},{"s":"p50","x":81.3,"y":-9.85},{"s":"p50","x":81.4,"y":-9.49},{"s":"p50","x":81.54,"y":-8.21},{"s":"p50","x":81.68,"y":-6.41},{"s":"p50","x":81.81,"y":-4.35},{"s":"p50","x":81.95,"y":-2.17},{"s":"p50","x":82.05,"y":-0.76},{"s":"p50","x":82.16,"y":-0.12},{"s":"p50","x":82.3,"y":0.05},{"s":"p50","x":82.6,"y":0},{"s":"p50","x":83.69,"y":0},
      {"s":"p100","x":78.39,"y":0.1},{"s":"p100","x":78.8,"y":0.15},{"s":"p100","x":79.2,"y":0.1},{"s":"p100","x":79.6,"y":-0.05},{"s":"p100","x":80.0,"y":-0.45},{"s":"p100","x":80.2,"y":-1.1},{"s":"p100","x":80.37,"y":-1.91},{"s":"p100","x":80.54,"y":-3.2},{"s":"p100","x":80.71,"y":-4.74},{"s":"p100","x":80.89,"y":-6.28},{"s":"p100","x":81.06,"y":-7.56},{"s":"p100","x":81.19,"y":-8.14},{"s":"p100","x":81.3,"y":-8.08},{"s":"p100","x":81.47,"y":-6.92},{"s":"p100","x":81.61,"y":-5.64},{"s":"p100","x":81.74,"y":-4.1},{"s":"p100","x":81.88,"y":-2.43},{"s":"p100","x":82.02,"y":-1.01},{"s":"p100","x":82.16,"y":-0.24},{"s":"p100","x":82.3,"y":0.15},{"s":"p100","x":82.5,"y":0.1},{"s":"p100","x":82.8,"y":0},{"s":"p100","x":83.69,"y":0},
      {"s":"p25","x":78.39,"y":0.15},{"s":"p25","x":78.8,"y":0.1},{"s":"p25","x":79.2,"y":0.05},{"s":"p25","x":79.6,"y":-0.1},{"s":"p25","x":80.0,"y":-0.55},{"s":"p25","x":80.2,"y":-1.1},{"s":"p25","x":80.37,"y":-1.78},{"s":"p25","x":80.54,"y":-2.81},{"s":"p25","x":80.71,"y":-4.1},{"s":"p25","x":80.89,"y":-5.38},{"s":"p25","x":81.06,"y":-6.34},{"s":"p25","x":81.23,"y":-6.73},{"s":"p25","x":81.33,"y":-6.67},{"s":"p25","x":81.54,"y":-5.9},{"s":"p25","x":81.71,"y":-4.61},{"s":"p25","x":81.88,"y":-3.07},{"s":"p25","x":82.05,"y":-1.53},{"s":"p25","x":82.23,"y":-0.5},{"s":"p25","x":82.43,"y":-0.12},{"s":"p25","x":82.7,"y":0},{"s":"p25","x":83.69,"y":0},
      {"s":"p12","x":78.39,"y":0.1},{"s":"p12","x":78.8,"y":0.1},{"s":"p12","x":79.2,"y":0.0},{"s":"p12","x":79.6,"y":-0.15},{"s":"p12","x":79.9,"y":-0.3},{"s":"p12","x":80.16,"y":-0.63},{"s":"p12","x":80.3,"y":-0.89},{"s":"p12","x":80.51,"y":-1.4},{"s":"p12","x":80.68,"y":-2.04},{"s":"p12","x":80.92,"y":-2.94},{"s":"p12","x":81.13,"y":-3.58},{"s":"p12","x":81.3,"y":-3.84},{"s":"p12","x":81.5,"y":-3.45},{"s":"p12","x":81.68,"y":-2.68},{"s":"p12","x":81.88,"y":-1.78},{"s":"p12","x":82.09,"y":-0.89},{"s":"p12","x":82.29,"y":-0.37},{"s":"p12","x":82.57,"y":-0.05},{"s":"p12","x":83.69,"y":0},
      {"s":"p6","x":78.39,"y":0.2},{"s":"p6","x":78.8,"y":0.2},{"s":"p6","x":79.2,"y":0.15},{"s":"p6","x":79.6,"y":0.2},{"s":"p6","x":79.9,"y":0.15},{"s":"p6","x":80.2,"y":-0.3},{"s":"p6","x":80.4,"y":-0.56},{"s":"p6","x":80.6,"y":-0.7},{"s":"p6","x":80.85,"y":-1.08},{"s":"p6","x":81.09,"y":-1.27},{"s":"p6","x":81.3,"y":-1.25},{"s":"p6","x":81.47,"y":-0.95},{"s":"p6","x":81.64,"y":-0.89},{"s":"p6","x":81.88,"y":-0.95},{"s":"p6","x":82.09,"y":-0.76},{"s":"p6","x":82.29,"y":-0.37},{"s":"p6","x":82.57,"y":-0.05},{"s":"p6","x":83.69,"y":0},
      {"s":"p3","x":78.39,"y":0.15},{"s":"p3","x":78.8,"y":0.2},{"s":"p3","x":79.2,"y":0.2},{"s":"p3","x":79.6,"y":0.25},{"s":"p3","x":80.0,"y":0.3},{"s":"p3","x":80.16,"y":0.14},{"s":"p3","x":80.5,"y":0.05},{"s":"p3","x":80.85,"y":-0.31},{"s":"p3","x":81.13,"y":-0.63},{"s":"p3","x":81.33,"y":-0.95},{"s":"p3","x":81.5,"y":-0.99},{"s":"p3","x":81.68,"y":-0.69},{"s":"p3","x":81.88,"y":0.01},{"s":"p3","x":82.09,"y":0.49},{"s":"p3","x":82.29,"y":0.4},{"s":"p3","x":82.53,"y":0.08},{"s":"p3","x":83.69,"y":0},
      {"s":"w0","x":78.39,"y":0},{"s":"w0","x":83.69,"y":0},
      {"s":"w1","x":78.39,"y":0.1},{"s":"w1","x":79.0,"y":0.15},{"s":"w1","x":79.62,"y":0.27},{"s":"w1","x":80.08,"y":0.4},{"s":"w1","x":80.41,"y":0.79},{"s":"w1","x":80.63,"y":1.04},{"s":"w1","x":80.85,"y":1.36},{"s":"w1","x":81.09,"y":1.94},{"s":"w1","x":81.3,"y":2.33},{"s":"w1","x":81.5,"y":2.45},{"s":"w1","x":81.71,"y":2.33},{"s":"w1","x":81.95,"y":1.81},{"s":"w1","x":82.12,"y":1.3},{"s":"w1","x":82.29,"y":0.66},{"s":"w1","x":82.5,"y":0.14},{"s":"w1","x":82.71,"y":0},{"s":"w1","x":83.69,"y":0},
      {"s":"w2","x":78.39,"y":0.05},{"s":"w2","x":79.0,"y":0.1},{"s":"w2","x":79.6,"y":0.15},{"s":"w2","x":80.0,"y":0.05},{"s":"w2","x":80.37,"y":-0.18},{"s":"w2","x":80.68,"y":-0.24},{"s":"w2","x":81.13,"y":-0.37},{"s":"w2","x":81.37,"y":-0.56},{"s":"w2","x":81.64,"y":-0.76},{"s":"w2","x":81.92,"y":-0.98},{"s":"w2","x":82.09,"y":-0.63},{"s":"w2","x":82.29,"y":-0.31},{"s":"w2","x":82.57,"y":-0.05},{"s":"w2","x":83.69,"y":0}
    ],
    "aE": [
      {"k":"L","txt":"E","x":78.644,"y":2.311},
      {"k":"l","txt":"3%","x":80.126,"y":1.99},{"k":"l","txt":"6%","x":79.547,"y":-1.938},{"k":"l","txt":"12%","x":79.863,"y":-3.8},{"k":"l","txt":"25%","x":80.05,"y":-6.341},{"k":"l","txt":"100%","x":82.345,"y":-8.177},{"k":"l","txt":"50%","x":82.022,"y":-10.257},
      {"k":"i","txt":"189 bp amplicon\nRPMI 8226","x":79.41,"y":-10.116},
      {"k":"a","x":80.406,"y":2.195,"xe":81.126,"ye":-0.693},{"k":"a","x":79.831,"y":-1.849,"xe":80.892,"ye":-1.207},{"k":"a","x":80.209,"y":-3.736,"xe":81.191,"ye":-3.736},{"k":"a","x":80.396,"y":-6.496,"xe":81.065,"ye":-6.496},{"k":"a","x":81.928,"y":-8.139,"xe":81.324,"ye":-8.139},{"k":"a","x":81.676,"y":-9.961,"xe":81.259,"ye":-9.961},
      {"k":"r","txt":"Replicate View","x":83.69,"y":3.25},
      {"k":"s","x":78.1244,"y":3.902,"xe":89.476,"ye":3.902}
    ],
    "cF": [
      {"s":"p50","x":77.0,"y":0.15},{"s":"p50","x":77.5,"y":0.2},{"s":"p50","x":77.93,"y":0.06},{"s":"p50","x":78.49,"y":-0.32},{"s":"p50","x":78.78,"y":-1.07},{"s":"p50","x":79.01,"y":-2.13},{"s":"p50","x":79.2,"y":-3.63},{"s":"p50","x":79.39,"y":-5.6},{"s":"p50","x":79.58,"y":-7.86},{"s":"p50","x":79.77,"y":-9.97},{"s":"p50","x":79.95,"y":-11.63},{"s":"p50","x":80.17,"y":-12.99},{"s":"p50","x":80.38,"y":-13.89},{"s":"p50","x":80.54,"y":-14.34},{"s":"p50","x":80.71,"y":-14.19},{"s":"p50","x":80.9,"y":-13.14},{"s":"p50","x":81.08,"y":-11.48},{"s":"p50","x":81.27,"y":-9.37},{"s":"p50","x":81.46,"y":-6.95},{"s":"p50","x":81.65,"y":-4.54},{"s":"p50","x":81.84,"y":-2.58},{"s":"p50","x":82.03,"y":-1.37},{"s":"p50","x":82.21,"y":-0.77},{"s":"p50","x":82.45,"y":-0.39},{"s":"p50","x":82.64,"y":-0.09},{"s":"p50","x":83.0,"y":0},{"s":"p50","x":83.85,"y":0},
      {"s":"p100","x":77.0,"y":0.1},{"s":"p100","x":77.5,"y":0.15},{"s":"p100","x":78.0,"y":0.1},{"s":"p100","x":78.5,"y":-0.2},{"s":"p100","x":78.8,"y":-0.9},{"s":"p100","x":79.0,"y":-1.8},{"s":"p100","x":79.15,"y":-3.18},{"s":"p100","x":79.34,"y":-4.84},{"s":"p100","x":79.53,"y":-6.5},{"s":"p100","x":79.72,"y":-8.01},{"s":"p100","x":79.91,"y":-9.37},{"s":"p100","x":80.14,"y":-10.42},{"s":"p100","x":80.38,"y":-11.25},{"s":"p100","x":80.5,"y":-11.45},{"s":"p100","x":80.61,"y":-11.33},{"s":"p100","x":80.8,"y":-10.42},{"s":"p100","x":80.99,"y":-9.06},{"s":"p100","x":81.18,"y":-7.41},{"s":"p100","x":81.37,"y":-5.44},{"s":"p100","x":81.55,"y":-3.48},{"s":"p100","x":81.74,"y":-1.98},{"s":"p100","x":81.93,"y":-1.07},{"s":"p100","x":82.2,"y":-0.5},{"s":"p100","x":82.5,"y":-0.2},{"s":"p100","x":83.0,"y":0},{"s":"p100","x":83.85,"y":0},
      {"s":"p25","x":77.0,"y":0.2},{"s":"p25","x":77.5,"y":0.1},{"s":"p25","x":78.0,"y":0.2},{"s":"p25","x":78.5,"y":-0.1},{"s":"p25","x":78.8,"y":-0.6},{"s":"p25","x":79.0,"y":-1.2},{"s":"p25","x":79.2,"y":-2.13},{"s":"p25","x":79.39,"y":-3.33},{"s":"p25","x":79.58,"y":-4.99},{"s":"p25","x":79.77,"y":-6.65},{"s":"p25","x":79.95,"y":-8.16},{"s":"p25","x":80.17,"y":-9.37},{"s":"p25","x":80.38,"y":-10.05},{"s":"p25","x":80.54,"y":-10.32},{"s":"p25","x":80.71,"y":-10.2},{"s":"p25","x":80.9,"y":-9.37},{"s":"p25","x":81.08,"y":-8.01},{"s":"p25","x":81.27,"y":-6.35},{"s":"p25","x":81.46,"y":-4.54},{"s":"p25","x":81.65,"y":-2.73},{"s":"p25","x":81.84,"y":-1.22},{"s":"p25","x":82.0,"y":-0.6},{"s":"p25","x":82.3,"y":-0.3},{"s":"p25","x":82.7,"y":-0.05},{"s":"p25","x":83.85,"y":0},
      {"s":"p12","x":77.0,"y":0.1},{"s":"p12","x":77.5,"y":0.15},{"s":"p12","x":78.0,"y":0.2},{"s":"p12","x":78.5,"y":-0.05},{"s":"p12","x":78.9,"y":-0.3},{"s":"p12","x":79.15,"y":-0.77},{"s":"p12","x":79.34,"y":-1.52},{"s":"p12","x":79.53,"y":-2.58},{"s":"p12","x":79.72,"y":-3.63},{"s":"p12","x":79.91,"y":-4.54},{"s":"p12","x":80.14,"y":-5.44},{"s":"p12","x":80.38,"y":-5.9},{"s":"p12","x":80.57,"y":-6.02},{"s":"p12","x":80.75,"y":-5.9},{"s":"p12","x":80.94,"y":-5.44},{"s":"p12","x":81.13,"y":-4.69},{"s":"p12","x":81.32,"y":-3.79},{"s":"p12","x":81.51,"y":-2.73},{"s":"p12","x":81.7,"y":-1.67},{"s":"p12","x":81.88,"y":-0.92},{"s":"p12","x":82.1,"y":-0.45},{"s":"p12","x":82.4,"y":-0.2},{"s":"p12","x":82.8,"y":-0.05},{"s":"p12","x":83.85,"y":0},
      {"s":"p6","x":77.0,"y":0.0},{"s":"p6","x":77.5,"y":0.1},{"s":"p6","x":78.0,"y":0.1},{"s":"p6","x":78.5,"y":-0.05},{"s":"p6","x":78.9,"y":-0.3},{"s":"p6","x":79.15,"y":-0.77},{"s":"p6","x":79.44,"y":-1.37},{"s":"p6","x":79.72,"y":-2.13},{"s":"p6","x":80.0,"y":-2.88},{"s":"p6","x":80.28,"y":-3.33},{"s":"p6","x":80.52,"y":-3.53},{"s":"p6","x":80.75,"y":-3.41},{"s":"p6","x":80.99,"y":-3.03},{"s":"p6","x":81.23,"y":-2.43},{"s":"p6","x":81.46,"y":-1.82},{"s":"p6","x":81.7,"y":-1.22},{"s":"p6","x":81.93,"y":-0.62},{"s":"p6","x":82.2,"y":-0.25},{"s":"p6","x":82.6,"y":-0.05},{"s":"p6","x":83.85,"y":0},
      {"s":"p3","x":77.0,"y":-0.1},{"s":"p3","x":77.5,"y":0.05},{"s":"p3","x":78.0,"y":0.1},{"s":"p3","x":78.49,"y":-0.1},{"s":"p3","x":78.87,"y":-0.24},{"s":"p3","x":79.15,"y":-0.39},{"s":"p3","x":79.44,"y":-0.69},{"s":"p3","x":79.72,"y":-0.92},{"s":"p3","x":80.0,"y":-1.3},{"s":"p3","x":80.28,"y":-1.67},{"s":"p3","x":80.52,"y":-1.86},{"s":"p3","x":80.66,"y":-1.9},{"s":"p3","x":80.99,"y":-1.75},{"s":"p3","x":81.23,"y":-1.6},{"s":"p3","x":81.46,"y":-1.37},{"s":"p3","x":81.7,"y":-1.07},{"s":"p3","x":81.93,"y":-0.62},{"s":"p3","x":82.2,"y":-0.3},{"s":"p3","x":82.6,"y":-0.1},{"s":"p3","x":83.0,"y":0},{"s":"p3","x":83.85,"y":0},
      {"s":"w0","x":77.0,"y":0},{"s":"w0","x":83.85,"y":0},
      {"s":"w1","x":77.0,"y":0.52},{"s":"w1","x":77.22,"y":-0.24},{"s":"w1","x":77.69,"y":-0.47},{"s":"w1","x":78.16,"y":-0.69},{"s":"w1","x":78.73,"y":-0.84},{"s":"w1","x":79.11,"y":-0.77},{"s":"w1","x":79.58,"y":-0.47},{"s":"w1","x":80.05,"y":-0.17},{"s":"w1","x":80.38,"y":0.02},{"s":"w1","x":80.75,"y":-0.05},{"s":"w1","x":81.13,"y":-0.32},{"s":"w1","x":81.46,"y":-0.77},{"s":"w1","x":81.7,"y":-0.92},{"s":"w1","x":81.95,"y":-0.85},{"s":"w1","x":82.2,"y":-0.45},{"s":"w1","x":82.5,"y":-0.1},{"s":"w1","x":83.0,"y":0},{"s":"w1","x":83.85,"y":0},
      {"s":"w2","x":77.0,"y":0.1},{"s":"w2","x":78.0,"y":0.05},{"s":"w2","x":79.0,"y":0.0},{"s":"w2","x":79.81,"y":-0.24},{"s":"w2","x":80.28,"y":-0.54},{"s":"w2","x":80.61,"y":-0.84},{"s":"w2","x":80.99,"y":-1.0},{"s":"w2","x":81.46,"y":-0.92},{"s":"w2","x":81.84,"y":-1.0},{"s":"w2","x":82.15,"y":-0.6},{"s":"w2","x":82.45,"y":-0.15},{"s":"w2","x":83.0,"y":0},{"s":"w2","x":83.85,"y":0}
    ],
    "aF": [
      {"k":"L","txt":"F","x":77.325,"y":-0.256},
      {"k":"l","txt":"3%","x":78.215,"y":-1.719},{"k":"l","txt":"6%","x":78.587,"y":-4.434},{"k":"l","txt":"12%","x":78.917,"y":-7.406},{"k":"l","txt":"25%","x":79.153,"y":-10.136},{"k":"l","txt":"100%","x":82.266,"y":-10.95},{"k":"l","txt":"50%","x":82.012,"y":-14.751},
      {"k":"i","txt":"92 bp amplicon\nRPMI 8226","x":78.239,"y":-14.857},
      {"k":"a","x":78.587,"y":-1.644,"xe":80.377,"ye":-1.644},{"k":"a","x":78.955,"y":-4.359,"xe":80.462,"ye":-3.56},{"k":"a","x":79.365,"y":-7.33,"xe":80.462,"ye":-6.003},{"k":"a","x":79.6,"y":-10.075,"xe":80.377,"ye":-10.075},{"k":"a","x":81.72,"y":-10.875,"xe":80.721,"ye":-10.875},{"k":"a","x":81.578,"y":-14.148,"xe":80.721,"ye":-14.148},
      {"k":"r","txt":"Replicate View","x":83.84,"y":0.93}
    ]
  },
  "columns": 2,
  "spacing": {"row": 33.5, "column": 39},
  "bounds": "flush",
  "align": "each",
  "concat": [
    {
      "width": 515, "height": 372,
      "encoding": {
        "x": {"field": "x", "type": "quantitative", "scale": {"domain": [78, 83.3], "nice": false, "zero": false},
              "axis": {"title": "°C", "values": [78, 79, 80, 81, 82, 83], "labelExpr": "replace(format(datum.value,'~g'),'\u2212','-')"}},
        "y": {"field": "y", "type": "quantitative", "scale": {"domain": [-13.06, 1.645], "nice": false, "zero": false},
              "axis": {"title": "Normalised minus wt", "values": [1,0,-1,-2,-3,-4,-5,-6,-7,-8,-9,-10,-11,-12,-13], "labelExpr": "replace(format(datum.value,'~g'),'\u2212','-')"}}
      },
      "layer": [
        {"data": {"name": "cA"}, "mark": {"type": "line", "strokeWidth": 1.5, "interpolate": "linear"},
         "encoding": {"detail": {"field": "s"}, "color": {"condition": {"test": "indexof(datum.s,'w')==0", "value": "#1c1cff"}, "value": "#ff8a1c"}}},
        {"data": {"name": "aA"}, "transform": [{"filter": "datum.k=='a'"}], "mark": {"type": "rule", "color": "black", "strokeWidth": 1},
         "encoding": {"x2": {"field": "xe"}, "y2": {"field": "ye"}}},
        {"data": {"name": "aA"}, "transform": [{"filter": "datum.k=='a'"}],
         "mark": {"type": "point", "shape": "M0,0L-3.5,9L3.5,9Z", "size": 4, "filled": true, "color": "black", "opacity": 1,
                  "angle": {"expr": "atan2((datum.xe-datum.x)*97.17,(datum.ye-datum.y)*25.3)*180/PI"}},
         "encoding": {"x": {"field": "xe", "type": "quantitative", "title": "°C"}, "y": {"field": "ye", "type": "quantitative", "title": "Normalised minus wt"}}},
        {"data": {"name": "aA"}, "transform": [{"filter": "datum.k=='l'"}],
         "mark": {"type": "point", "size": 4, "filled": true, "fill": "white", "stroke": "black", "strokeWidth": 3, "opacity": 1},
         "encoding": {"shape": {"field": "txt", "type": "nominal", "legend": null, "scale": {"domain": ["3%","5%","6%","10%","12%","25%","50%","100%"], "range": ["M-24.5,-18.5H24.5V18.5H-24.5Z","M-24.5,-18.5H24.5V18.5H-24.5Z","M-24.5,-18.5H24.5V18.5H-24.5Z","M-31.5,-18.5H31.5V18.5H-31.5Z","M-31.5,-18.5H31.5V18.5H-31.5Z","M-31.5,-18.5H31.5V18.5H-31.5Z","M-31.5,-18.5H31.5V18.5H-31.5Z","M-38,-18.5H38V18.5H-38Z"]}}}},
        {"data": {"name": "aA"}, "transform": [{"filter": "datum.k=='l'"}],
         "mark": {"type": "text", "fontSize": 23, "font": "Liberation Sans", "color": "black", "baseline": "middle"},
         "encoding": {"text": {"field": "txt"}}},
        {"data": {"name": "aA"}, "transform": [{"filter": "datum.k=='L'"}],
         "mark": {"type": "point", "shape": "M-22,-27.5H22V27.5H-22Z", "size": 4, "filled": true, "fill": "white", "stroke": "black", "strokeWidth": 3, "opacity": 1}},
        {"data": {"name": "aA"}, "transform": [{"filter": "datum.k=='L'"}],
         "mark": {"type": "text", "fontSize": 39, "fontWeight": "bold", "font": "Liberation Sans", "color": "black", "baseline": "middle", "dy": 1},
         "encoding": {"text": {"field": "txt"}}},
        {"data": {"name": "aA"}, "transform": [{"filter": "datum.k=='i'"}],
         "mark": {"type": "point", "shape": "M-95.5,-32.5H95.5V32.5H-95.5Z", "size": 4, "filled": true, "fill": "white", "stroke": "black", "strokeWidth": 3, "opacity": 1}},
        {"data": {"name": "aA"}, "transform": [{"filter": "datum.k=='i'"}],
         "mark": {"type": "text", "fontSize": 24, "font": "Liberation Sans", "color": "black", "align": "left", "baseline": "middle", "dx": -87, "dy": -14, "lineBreak": "\n", "lineHeight": 28},
         "encoding": {"text": {"field": "txt"}}},
        {"data": {"name": "aA"}, "transform": [{"filter": "datum.k=='r'"}],
         "mark": {"type": "text", "fontSize": 6, "color": "#555", "align": "right", "baseline": "middle"},
         "encoding": {"text": {"field": "txt"}}}
      ]
    },
    {
      "width": 519, "height": 372,
      "encoding": {
        "x": {"field": "x", "type": "quantitative", "scale": {"domain": [78, 82.895], "nice": false, "zero": false},
              "axis": {"title": "°C", "values": [78, 79, 80, 81, 82], "labelExpr": "replace(format(datum.value,'~g'),'\u2212','-')"}},
        "y": {"field": "y", "type": "quantitative", "scale": {"domain": [-18.377, 2.5], "nice": false, "zero": false},
              "axis": {"title": "Normalised minus wt", "values": [2,1,0,-1,-2,-3,-4,-5,-6,-7,-8,-9,-10,-11,-12,-13,-14,-15,-16,-17,-18], "labelExpr": "replace(format(datum.value,'~g'),'\u2212','-')"}}
      },
      "layer": [
        {"data": {"name": "cB"}, "mark": {"type": "line", "strokeWidth": 1.5, "interpolate": "linear"},
         "encoding": {"detail": {"field": "s"}, "color": {"condition": {"test": "indexof(datum.s,'w')==0", "value": "#1c1cff"}, "value": "#f01e1e"}}},
        {"data": {"name": "aB"}, "transform": [{"filter": "datum.k=='a'"}], "mark": {"type": "rule", "color": "black", "strokeWidth": 1},
         "encoding": {"x2": {"field": "xe"}, "y2": {"field": "ye"}}},
        {"data": {"name": "aB"}, "transform": [{"filter": "datum.k=='a'"}],
         "mark": {"type": "point", "shape": "M0,0L-3.5,9L3.5,9Z", "size": 4, "filled": true, "color": "black", "opacity": 1,
                  "angle": {"expr": "atan2((datum.xe-datum.x)*106.03,(datum.ye-datum.y)*17.82)*180/PI"}},
         "encoding": {"x": {"field": "xe", "type": "quantitative", "title": "°C"}, "y": {"field": "ye", "type": "quantitative", "title": "Normalised minus wt"}}},
        {"data": {"name": "aB"}, "transform": [{"filter": "datum.k=='l'"}],
         "mark": {"type": "point", "size": 4, "filled": true, "fill": "white", "stroke": "black", "strokeWidth": 3, "opacity": 1},
         "encoding": {"shape": {"field": "txt", "type": "nominal", "legend": null, "scale": {"domain": ["3%","5%","6%","10%","12%","25%","50%","100%"], "range": ["M-24.5,-18.5H24.5V18.5H-24.5Z","M-24.5,-18.5H24.5V18.5H-24.5Z","M-24.5,-18.5H24.5V18.5H-24.5Z","M-31.5,-18.5H31.5V18.5H-31.5Z","M-31.5,-18.5H31.5V18.5H-31.5Z","M-31.5,-18.5H31.5V18.5H-31.5Z","M-31.5,-18.5H31.5V18.5H-31.5Z","M-38,-18.5H38V18.5H-38Z"]}}}},
        {"data": {"name": "aB"}, "transform": [{"filter": "datum.k=='l'"}],
         "mark": {"type": "text", "fontSize": 23, "font": "Liberation Sans", "color": "black", "baseline": "middle"},
         "encoding": {"text": {"field": "txt"}}},
        {"data": {"name": "aB"}, "transform": [{"filter": "datum.k=='L'"}],
         "mark": {"type": "point", "shape": "M-22,-27.5H22V27.5H-22Z", "size": 4, "filled": true, "fill": "white", "stroke": "black", "strokeWidth": 3, "opacity": 1}},
        {"data": {"name": "aB"}, "transform": [{"filter": "datum.k=='L'"}],
         "mark": {"type": "text", "fontSize": 39, "fontWeight": "bold", "font": "Liberation Sans", "color": "black", "baseline": "middle", "dy": 1},
         "encoding": {"text": {"field": "txt"}}},
        {"data": {"name": "aB"}, "transform": [{"filter": "datum.k=='i'"}],
         "mark": {"type": "point", "shape": "M-88.5,-32.5H88.5V32.5H-88.5Z", "size": 4, "filled": true, "fill": "white", "stroke": "black", "strokeWidth": 3, "opacity": 1}},
        {"data": {"name": "aB"}, "transform": [{"filter": "datum.k=='i'"}],
         "mark": {"type": "text", "fontSize": 24, "font": "Liberation Sans", "color": "black", "align": "left", "baseline": "middle", "dx": -81, "dy": -14, "lineBreak": "\n", "lineHeight": 28},
         "encoding": {"text": {"field": "txt"}}},
        {"data": {"name": "aB"}, "transform": [{"filter": "datum.k=='r'"}],
         "mark": {"type": "text", "fontSize": 6, "color": "#555", "align": "right", "baseline": "middle"},
         "encoding": {"text": {"field": "txt"}}},
        {"data": {"name": "aB"}, "transform": [{"filter": "datum.k=='s'"}], "mark": {"type": "rule", "color": "black", "strokeWidth": 4},
         "encoding": {"x2": {"field": "xe"}, "y2": {"field": "ye"}}}
      ]
    },
    {
      "width": 515, "height": 386.5,
      "encoding": {
        "x": {"field": "x", "type": "quantitative", "scale": {"domain": [79.496, 83.551], "nice": false, "zero": false},
              "axis": {"title": "°C", "values": [79.6,79.8,80,80.2,80.4,80.6,80.8,81,81.2,81.4,81.6,81.8,82,82.2,82.4,82.6,82.8,83,83.2,83.4], "labelExpr": "replace(format(datum.value,'~g'),'\u2212','-')"}},
        "y": {"field": "y", "type": "quantitative", "scale": {"domain": [-16.094, 3.426], "nice": false, "zero": false},
              "axis": {"title": "Normalised minus wt", "values": [3,2,1,0,-1,-2,-3,-4,-5,-6,-7,-8,-9,-10,-11,-12,-13,-14,-15,-16], "labelExpr": "replace(format(datum.value,'~g'),'\u2212','-')"}}
      },
      "layer": [
        {"data": {"name": "cC"}, "mark": {"type": "line", "strokeWidth": 1.5, "interpolate": "linear"},
         "encoding": {"detail": {"field": "s"}, "color": {"condition": {"test": "indexof(datum.s,'w')==0", "value": "#1c1cff"}, "value": "#ff8a1c"}}},
        {"data": {"name": "aC"}, "transform": [{"filter": "datum.k=='a'"}], "mark": {"type": "rule", "color": "black", "strokeWidth": 1},
         "encoding": {"x2": {"field": "xe"}, "y2": {"field": "ye"}}},
        {"data": {"name": "aC"}, "transform": [{"filter": "datum.k=='a'"}],
         "mark": {"type": "point", "shape": "M0,0L-3.5,9L3.5,9Z", "size": 4, "filled": true, "color": "black", "opacity": 1,
                  "angle": {"expr": "atan2((datum.xe-datum.x)*127.0,(datum.ye-datum.y)*19.8)*180/PI"}},
         "encoding": {"x": {"field": "xe", "type": "quantitative", "title": "°C"}, "y": {"field": "ye", "type": "quantitative", "title": "Normalised minus wt"}}},
        {"data": {"name": "aC"}, "transform": [{"filter": "datum.k=='l'"}],
         "mark": {"type": "point", "size": 4, "filled": true, "fill": "white", "stroke": "black", "strokeWidth": 3, "opacity": 1},
         "encoding": {"shape": {"field": "txt", "type": "nominal", "legend": null, "scale": {"domain": ["3%","5%","6%","10%","12%","25%","50%","100%"], "range": ["M-24.5,-18.5H24.5V18.5H-24.5Z","M-24.5,-18.5H24.5V18.5H-24.5Z","M-24.5,-18.5H24.5V18.5H-24.5Z","M-31.5,-18.5H31.5V18.5H-31.5Z","M-31.5,-18.5H31.5V18.5H-31.5Z","M-31.5,-18.5H31.5V18.5H-31.5Z","M-31.5,-18.5H31.5V18.5H-31.5Z","M-38,-18.5H38V18.5H-38Z"]}}}},
        {"data": {"name": "aC"}, "transform": [{"filter": "datum.k=='l'"}],
         "mark": {"type": "text", "fontSize": 23, "font": "Liberation Sans", "color": "black", "baseline": "middle"},
         "encoding": {"text": {"field": "txt"}}},
        {"data": {"name": "aC"}, "transform": [{"filter": "datum.k=='L'"}],
         "mark": {"type": "point", "shape": "M-22,-27.5H22V27.5H-22Z", "size": 4, "filled": true, "fill": "white", "stroke": "black", "strokeWidth": 3, "opacity": 1}},
        {"data": {"name": "aC"}, "transform": [{"filter": "datum.k=='L'"}],
         "mark": {"type": "text", "fontSize": 39, "fontWeight": "bold", "font": "Liberation Sans", "color": "black", "baseline": "middle", "dy": 1},
         "encoding": {"text": {"field": "txt"}}},
        {"data": {"name": "aC"}, "transform": [{"filter": "datum.k=='i'"}],
         "mark": {"type": "point", "shape": "M-95.5,-32.5H95.5V32.5H-95.5Z", "size": 4, "filled": true, "fill": "white", "stroke": "black", "strokeWidth": 3, "opacity": 1}},
        {"data": {"name": "aC"}, "transform": [{"filter": "datum.k=='i'"}],
         "mark": {"type": "text", "fontSize": 24, "font": "Liberation Sans", "color": "black", "align": "left", "baseline": "middle", "dx": -87, "dy": -14, "lineBreak": "\n", "lineHeight": 28},
         "encoding": {"text": {"field": "txt"}}},
        {"data": {"name": "aC"}, "transform": [{"filter": "datum.k=='r'"}],
         "mark": {"type": "text", "fontSize": 6, "color": "#555", "align": "right", "baseline": "middle"},
         "encoding": {"text": {"field": "txt"}}},
        {"data": {"name": "aC"}, "transform": [{"filter": "datum.k=='s'"}], "mark": {"type": "rule", "color": "black", "strokeWidth": 4},
         "encoding": {"x2": {"field": "xe"}, "y2": {"field": "ye"}}}
      ]
    },
    {
      "width": 519, "height": 386.5,
      "encoding": {
        "x": {"field": "x", "type": "quantitative", "scale": {"domain": [77.2, 83.505], "nice": false, "zero": false},
              "axis": {"title": "°C", "labelFlush": true, "values": [77.5,78,78.5,79,79.5,80,80.5,81,81.5,82,82.5,83,83.5], "labelExpr": "replace(format(datum.value,'~g'),'\u2212','-')"}},
        "y": {"field": "y", "type": "quantitative", "scale": {"domain": [-16.629, 5.01], "nice": false, "zero": false},
              "axis": {"title": "Normalised minus wt", "values": [5,4,3,2,1,0,-1,-2,-3,-4,-5,-6,-7,-8,-9,-10,-11,-12,-13,-14,-15,-16], "labelExpr": "replace(format(datum.value,'~g'),'\u2212','-')"}}
      },
      "layer": [
        {"data": {"name": "cD"}, "mark": {"type": "line", "strokeWidth": 1.5, "interpolate": "linear"},
         "encoding": {"detail": {"field": "s"}, "color": {"condition": {"test": "indexof(datum.s,'w')==0", "value": "#1c1cff"}, "value": "#f01e1e"}}},
        {"data": {"name": "aD"}, "transform": [{"filter": "datum.k=='a'"}], "mark": {"type": "rule", "color": "black", "strokeWidth": 1},
         "encoding": {"x2": {"field": "xe"}, "y2": {"field": "ye"}}},
        {"data": {"name": "aD"}, "transform": [{"filter": "datum.k=='a'"}],
         "mark": {"type": "point", "shape": "M0,0L-3.5,9L3.5,9Z", "size": 4, "filled": true, "color": "black", "opacity": 1,
                  "angle": {"expr": "atan2((datum.xe-datum.x)*82.32,(datum.ye-datum.y)*17.86)*180/PI"}},
         "encoding": {"x": {"field": "xe", "type": "quantitative", "title": "°C"}, "y": {"field": "ye", "type": "quantitative", "title": "Normalised minus wt"}}},
        {"data": {"name": "aD"}, "transform": [{"filter": "datum.k=='l'"}],
         "mark": {"type": "point", "size": 4, "filled": true, "fill": "white", "stroke": "black", "strokeWidth": 3, "opacity": 1},
         "encoding": {"shape": {"field": "txt", "type": "nominal", "legend": null, "scale": {"domain": ["3%","5%","6%","10%","12%","25%","50%","100%"], "range": ["M-24.5,-18.5H24.5V18.5H-24.5Z","M-24.5,-18.5H24.5V18.5H-24.5Z","M-24.5,-18.5H24.5V18.5H-24.5Z","M-31.5,-18.5H31.5V18.5H-31.5Z","M-31.5,-18.5H31.5V18.5H-31.5Z","M-31.5,-18.5H31.5V18.5H-31.5Z","M-31.5,-18.5H31.5V18.5H-31.5Z","M-38,-18.5H38V18.5H-38Z"]}}}},
        {"data": {"name": "aD"}, "transform": [{"filter": "datum.k=='l'"}],
         "mark": {"type": "text", "fontSize": 23, "font": "Liberation Sans", "color": "black", "baseline": "middle"},
         "encoding": {"text": {"field": "txt"}}},
        {"data": {"name": "aD"}, "transform": [{"filter": "datum.k=='L'"}],
         "mark": {"type": "point", "shape": "M-22,-27.5H22V27.5H-22Z", "size": 4, "filled": true, "fill": "white", "stroke": "black", "strokeWidth": 3, "opacity": 1}},
        {"data": {"name": "aD"}, "transform": [{"filter": "datum.k=='L'"}],
         "mark": {"type": "text", "fontSize": 39, "fontWeight": "bold", "font": "Liberation Sans", "color": "black", "baseline": "middle", "dy": 1},
         "encoding": {"text": {"field": "txt"}}},
        {"data": {"name": "aD"}, "transform": [{"filter": "datum.k=='i'"}],
         "mark": {"type": "point", "shape": "M-88.5,-32.5H88.5V32.5H-88.5Z", "size": 4, "filled": true, "fill": "white", "stroke": "black", "strokeWidth": 3, "opacity": 1}},
        {"data": {"name": "aD"}, "transform": [{"filter": "datum.k=='i'"}],
         "mark": {"type": "text", "fontSize": 24, "font": "Liberation Sans", "color": "black", "align": "left", "baseline": "middle", "dx": -81, "dy": -14, "lineBreak": "\n", "lineHeight": 28},
         "encoding": {"text": {"field": "txt"}}},
        {"data": {"name": "aD"}, "transform": [{"filter": "datum.k=='r'"}],
         "mark": {"type": "text", "fontSize": 6, "color": "#555", "align": "right", "baseline": "middle"},
         "encoding": {"text": {"field": "txt"}}}
      ]
    },
    {
      "width": 515, "height": 390.5,
      "encoding": {
        "x": {"field": "x", "type": "quantitative", "scale": {"domain": [78.392, 83.692], "nice": false, "zero": false},
              "axis": {"title": "°C", "values": [78.5,79,79.5,80,80.5,81,81.5,82,82.5,83,83.5], "labelExpr": "replace(format(datum.value,'~g'),'\u2212','-')"}},
        "y": {"field": "y", "type": "quantitative", "scale": {"domain": [-11.45, 3.575], "nice": false, "zero": false},
              "axis": {"title": "Normalised minus wt", "values": [3,2,1,0,-1,-2,-3,-4,-5,-6,-7,-8,-9,-10,-11], "labelExpr": "replace(format(datum.value,'~g'),'\u2212','-')"}}
      },
      "layer": [
        {"data": {"name": "cE"}, "mark": {"type": "line", "strokeWidth": 1.5, "interpolate": "monotone"},
         "encoding": {"detail": {"field": "s"}, "color": {"condition": {"test": "indexof(datum.s,'w')==0", "value": "#1c1cff"}, "value": "#ff22ee"}}},
        {"data": {"name": "aE"}, "transform": [{"filter": "datum.k=='a'"}], "mark": {"type": "rule", "color": "black", "strokeWidth": 1},
         "encoding": {"x2": {"field": "xe"}, "y2": {"field": "ye"}}},
        {"data": {"name": "aE"}, "transform": [{"filter": "datum.k=='a'"}],
         "mark": {"type": "point", "shape": "M0,0L-3.5,9L3.5,9Z", "size": 4, "filled": true, "color": "black", "opacity": 1,
                  "angle": {"expr": "atan2((datum.xe-datum.x)*97.17,(datum.ye-datum.y)*25.99)*180/PI"}},
         "encoding": {"x": {"field": "xe", "type": "quantitative", "title": "°C"}, "y": {"field": "ye", "type": "quantitative", "title": "Normalised minus wt"}}},
        {"data": {"name": "aE"}, "transform": [{"filter": "datum.k=='l'"}],
         "mark": {"type": "point", "size": 4, "filled": true, "fill": "white", "stroke": "black", "strokeWidth": 3, "opacity": 1},
         "encoding": {"shape": {"field": "txt", "type": "nominal", "legend": null, "scale": {"domain": ["3%","5%","6%","10%","12%","25%","50%","100%"], "range": ["M-24.5,-18.5H24.5V18.5H-24.5Z","M-24.5,-18.5H24.5V18.5H-24.5Z","M-24.5,-18.5H24.5V18.5H-24.5Z","M-31.5,-18.5H31.5V18.5H-31.5Z","M-31.5,-18.5H31.5V18.5H-31.5Z","M-31.5,-18.5H31.5V18.5H-31.5Z","M-31.5,-18.5H31.5V18.5H-31.5Z","M-38,-18.5H38V18.5H-38Z"]}}}},
        {"data": {"name": "aE"}, "transform": [{"filter": "datum.k=='l'"}],
         "mark": {"type": "text", "fontSize": 23, "font": "Liberation Sans", "color": "black", "baseline": "middle"},
         "encoding": {"text": {"field": "txt"}}},
        {"data": {"name": "aE"}, "transform": [{"filter": "datum.k=='L'"}],
         "mark": {"type": "point", "shape": "M-22,-27.5H22V27.5H-22Z", "size": 4, "filled": true, "fill": "white", "stroke": "black", "strokeWidth": 3, "opacity": 1}},
        {"data": {"name": "aE"}, "transform": [{"filter": "datum.k=='L'"}],
         "mark": {"type": "text", "fontSize": 39, "fontWeight": "bold", "font": "Liberation Sans", "color": "black", "baseline": "middle", "dy": 1},
         "encoding": {"text": {"field": "txt"}}},
        {"data": {"name": "aE"}, "transform": [{"filter": "datum.k=='i'"}],
         "mark": {"type": "point", "shape": "M-95.5,-32.5H95.5V32.5H-95.5Z", "size": 4, "filled": true, "fill": "white", "stroke": "black", "strokeWidth": 3, "opacity": 1}},
        {"data": {"name": "aE"}, "transform": [{"filter": "datum.k=='i'"}],
         "mark": {"type": "text", "fontSize": 24, "font": "Liberation Sans", "color": "black", "align": "left", "baseline": "middle", "dx": -87, "dy": -14, "lineBreak": "\n", "lineHeight": 28},
         "encoding": {"text": {"field": "txt"}}},
        {"data": {"name": "aE"}, "transform": [{"filter": "datum.k=='r'"}],
         "mark": {"type": "text", "fontSize": 6, "color": "#555", "align": "right", "baseline": "middle"},
         "encoding": {"text": {"field": "txt"}}},
        {"data": {"name": "aE"}, "transform": [{"filter": "datum.k=='s'"}], "mark": {"type": "rule", "color": "black", "strokeWidth": 4},
         "encoding": {"x2": {"field": "xe"}, "y2": {"field": "ye"}}}
      ]
    },
    {
      "width": 519, "height": 390.5,
      "encoding": {
        "x": {"field": "x", "type": "quantitative", "scale": {"domain": [76.966, 83.849], "nice": false, "zero": false},
              "axis": {"title": "°C", "values": [77,77.5,78,78.5,79,79.5,80,80.5,81,81.5,82,82.5,83,83.5], "labelExpr": "replace(format(datum.value,'~g'),'\u2212','-')"}},
        "y": {"field": "y", "type": "quantitative", "scale": {"domain": [-16.425, 1.275], "nice": false, "zero": false},
              "axis": {"title": "Normalised minus wt", "values": [1,0,-1,-2,-3,-4,-5,-6,-7,-8,-9,-10,-11,-12,-13,-14,-15,-16], "labelExpr": "replace(format(datum.value,'~g'),'\u2212','-')"}}
      },
      "layer": [
        {"data": {"name": "cF"}, "mark": {"type": "line", "strokeWidth": 1.5, "interpolate": "monotone"},
         "encoding": {"detail": {"field": "s"}, "color": {"condition": {"test": "indexof(datum.s,'w')==0", "value": "#1c1cff"}, "value": "#fb1e7e"}}},
        {"data": {"name": "aF"}, "transform": [{"filter": "datum.k=='a'"}], "mark": {"type": "rule", "color": "black", "strokeWidth": 1},
         "encoding": {"x2": {"field": "xe"}, "y2": {"field": "ye"}}},
        {"data": {"name": "aF"}, "transform": [{"filter": "datum.k=='a'"}],
         "mark": {"type": "point", "shape": "M0,0L-3.5,9L3.5,9Z", "size": 4, "filled": true, "color": "black", "opacity": 1,
                  "angle": {"expr": "atan2((datum.xe-datum.x)*75.4,(datum.ye-datum.y)*22.06)*180/PI"}},
         "encoding": {"x": {"field": "xe", "type": "quantitative", "title": "°C"}, "y": {"field": "ye", "type": "quantitative", "title": "Normalised minus wt"}}},
        {"data": {"name": "aF"}, "transform": [{"filter": "datum.k=='l'"}],
         "mark": {"type": "point", "size": 4, "filled": true, "fill": "white", "stroke": "black", "strokeWidth": 3, "opacity": 1},
         "encoding": {"shape": {"field": "txt", "type": "nominal", "legend": null, "scale": {"domain": ["3%","5%","6%","10%","12%","25%","50%","100%"], "range": ["M-24.5,-18.5H24.5V18.5H-24.5Z","M-24.5,-18.5H24.5V18.5H-24.5Z","M-24.5,-18.5H24.5V18.5H-24.5Z","M-31.5,-18.5H31.5V18.5H-31.5Z","M-31.5,-18.5H31.5V18.5H-31.5Z","M-31.5,-18.5H31.5V18.5H-31.5Z","M-31.5,-18.5H31.5V18.5H-31.5Z","M-38,-18.5H38V18.5H-38Z"]}}}},
        {"data": {"name": "aF"}, "transform": [{"filter": "datum.k=='l'"}],
         "mark": {"type": "text", "fontSize": 23, "font": "Liberation Sans", "color": "black", "baseline": "middle"},
         "encoding": {"text": {"field": "txt"}}},
        {"data": {"name": "aF"}, "transform": [{"filter": "datum.k=='L'"}],
         "mark": {"type": "point", "shape": "M-22,-27.5H22V27.5H-22Z", "size": 4, "filled": true, "fill": "white", "stroke": "black", "strokeWidth": 3, "opacity": 1}},
        {"data": {"name": "aF"}, "transform": [{"filter": "datum.k=='L'"}],
         "mark": {"type": "text", "fontSize": 39, "fontWeight": "bold", "font": "Liberation Sans", "color": "black", "baseline": "middle", "dy": 1},
         "encoding": {"text": {"field": "txt"}}},
        {"data": {"name": "aF"}, "transform": [{"filter": "datum.k=='i'"}],
         "mark": {"type": "point", "shape": "M-88.5,-32.5H88.5V32.5H-88.5Z", "size": 4, "filled": true, "fill": "white", "stroke": "black", "strokeWidth": 3, "opacity": 1}},
        {"data": {"name": "aF"}, "transform": [{"filter": "datum.k=='i'"}],
         "mark": {"type": "text", "fontSize": 24, "font": "Liberation Sans", "color": "black", "align": "left", "baseline": "middle", "dx": -81, "dy": -14, "lineBreak": "\n", "lineHeight": 28},
         "encoding": {"text": {"field": "txt"}}},
        {"data": {"name": "aF"}, "transform": [{"filter": "datum.k=='r'"}],
         "mark": {"type": "text", "fontSize": 6, "color": "#555", "align": "right", "baseline": "middle"},
         "encoding": {"text": {"field": "txt"}}}
      ]
    }
  ]
}
